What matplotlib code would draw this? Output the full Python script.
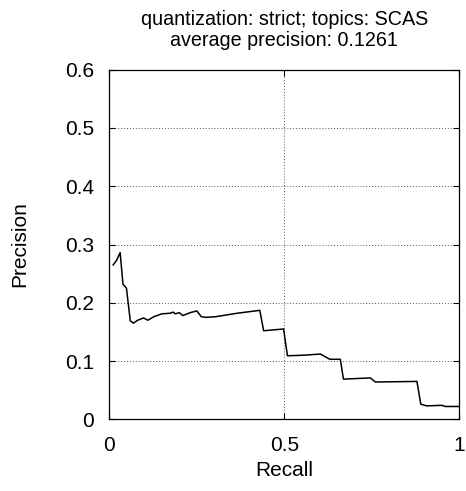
import matplotlib
matplotlib.use("Agg")
import matplotlib.pyplot as plt

recall = [0.011, 0.02, 0.031, 0.039, 0.049, 0.06, 0.069, 0.081, 0.098, 0.11,
          0.127, 0.15, 0.174, 0.182, 0.189, 0.2, 0.21, 0.231, 0.25, 0.263,
          0.277, 0.303, 0.365, 0.43, 0.441, 0.498, 0.509, 0.555, 0.603, 0.612,
          0.63, 0.66, 0.669, 0.746, 0.76, 0.879, 0.89, 0.907, 0.95, 0.96, 1.0]
precision = [0.265, 0.272, 0.286, 0.232, 0.225, 0.169, 0.165, 0.170, 0.174, 0.170,
             0.176, 0.181, 0.182, 0.184, 0.181, 0.183, 0.178, 0.183, 0.186, 0.176,
             0.175, 0.176, 0.182, 0.187, 0.152, 0.155, 0.109, 0.110, 0.112, 0.109,
             0.103, 0.103, 0.069, 0.071, 0.064, 0.065, 0.026, 0.023, 0.024, 0.022, 0.022]

xticks = [0, 0.5, 1]
xticklabels = ["0", "0.5", "1"]
yticks = [0, 0.1, 0.2, 0.3, 0.4, 0.5, 0.6]
yticklabels = ["0", "0.1", "0.2", "0.3", "0.4", "0.5", "0.6"]

plt.rcParams['font.family'] = ['Liberation Sans', 'DejaVu Sans']

fig = plt.figure(figsize=(4.66, 4.91), dpi=100)
ax = fig.add_axes([109.3/466, 1-419.3/491, 350/466, 349.6/491])

ax.plot(recall, precision, color='black', lw=1.1)
ax.set_xlim(0, 1)
ax.set_ylim(0, 0.6)
ax.set_xticks(xticks)
ax.set_xticklabels(xticklabels)
ax.set_yticks(yticks)
ax.set_yticklabels(yticklabels)
ax.tick_params(direction='in', length=4, width=0.8, labelsize=15, pad=11,
               top=True, right=True)
ax.tick_params(axis='x', pad=12)
ax.grid(True, color='#555555', linestyle=(0, (1, 2)), lw=0.7)
for s in ax.spines.values():
    s.set_linewidth(0.9)

ax.set_xlabel("Recall", fontsize=15)
ax.xaxis.set_label_coords(0.5, -0.118)
ax.set_ylabel("Precision", fontsize=15)
ax.yaxis.set_label_coords(-0.23, 0.5)
ax.set_title("quantization: strict; topics: SCAS\naverage precision: 0.1261",
             fontsize=14.2, pad=17, linespacing=1.15)

fig.savefig("out.png", dpi=100)
